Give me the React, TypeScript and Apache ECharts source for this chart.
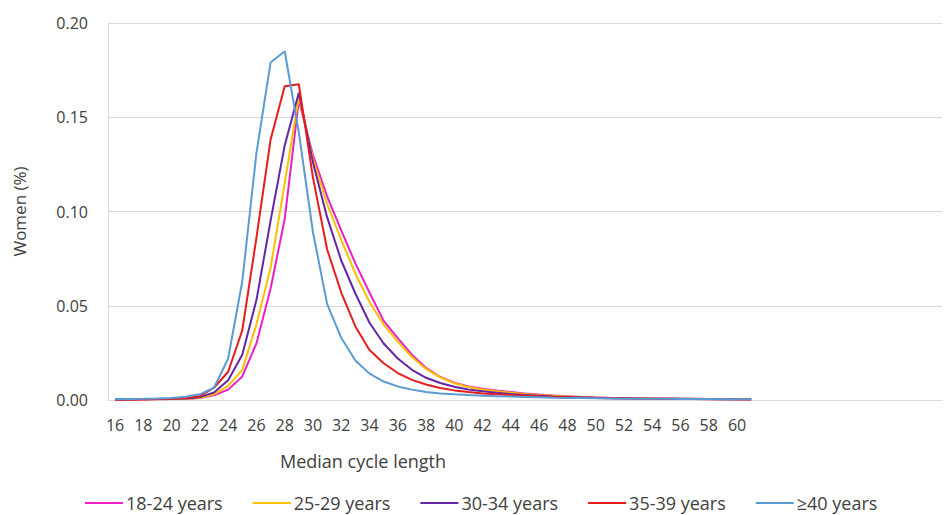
import React, { useEffect, useRef } from "react";
import * as echarts from "echarts";

// Category axis: cycle lengths 16..74 (data exists for 16..61)
const cycleLengths: number[] = Array.from({ length: 59 }, (_, i) => 16 + i);

const seriesNames = ["18-24 years", "25-29 years", "30-34 years", "35-39 years", "≥40 years"];
const seriesColors = ["#ea1fc6", "#ffc000", "#6526a6", "#e81c1c", "#5b9bd5"];

// values for cycle length 16..61
const age18_24 = [
  0.0002, 0.0002, 0.0003, 0.0004, 0.0005, 0.0007, 0.001, 0.0025, 0.0055, 0.0125,
  0.030, 0.059, 0.096, 0.159, 0.130, 0.108, 0.090, 0.0725, 0.057, 0.042,
  0.0328, 0.024, 0.017, 0.0122, 0.0092, 0.0072, 0.006, 0.005, 0.0042, 0.0035,
  0.0029, 0.0024, 0.002, 0.0016, 0.0013, 0.0011, 0.001, 0.0009, 0.0008, 0.0007,
  0.0006, 0.0006, 0.0005, 0.0005, 0.0004, 0.0004,
];
const age25_29 = [
  0.0002, 0.0002, 0.0003, 0.0004, 0.0005, 0.0007, 0.0011, 0.003, 0.0075, 0.016,
  0.040, 0.070, 0.115, 0.161, 0.128, 0.104, 0.085, 0.067, 0.052, 0.040,
  0.031, 0.0228, 0.0165, 0.012, 0.0089, 0.0069, 0.0056, 0.0046, 0.0038, 0.0032,
  0.0027, 0.0023, 0.0019, 0.0016, 0.0013, 0.0011, 0.001, 0.0009, 0.0008, 0.0007,
  0.0006, 0.0006, 0.0005, 0.0005, 0.0004, 0.0004,
];
const age30_34 = [
  0.0003, 0.0003, 0.0004, 0.0005, 0.0006, 0.0008, 0.0015, 0.004, 0.0105, 0.024,
  0.053, 0.095, 0.135, 0.163, 0.126, 0.097, 0.074, 0.0565, 0.041, 0.030,
  0.022, 0.016, 0.0118, 0.009, 0.007, 0.0056, 0.0046, 0.0038, 0.0032, 0.0027,
  0.0023, 0.0019, 0.0016, 0.0014, 0.0012, 0.001, 0.0009, 0.0008, 0.0007, 0.0006,
  0.0006, 0.0005, 0.0005, 0.0004, 0.0004, 0.0004,
];
const age35_39 = [
  0.0003, 0.0003, 0.0004, 0.0005, 0.0007, 0.001, 0.002, 0.0065, 0.015, 0.037,
  0.086, 0.138, 0.1665, 0.1675, 0.118, 0.080, 0.057, 0.039, 0.0265, 0.0195,
  0.0143, 0.0107, 0.0082, 0.0064, 0.0051, 0.0042, 0.0035, 0.003, 0.0026, 0.0022,
  0.0019, 0.0016, 0.0014, 0.0012, 0.001, 0.0009, 0.0008, 0.0007, 0.0006, 0.0006,
  0.0005, 0.0005, 0.0004, 0.0004, 0.0004, 0.0003,
];
const age40plus = [
  0.0005, 0.0005, 0.0006, 0.0008, 0.0011, 0.0017, 0.003, 0.0065, 0.022, 0.063,
  0.131, 0.179, 0.185, 0.142, 0.089, 0.051, 0.033, 0.021, 0.014, 0.0098,
  0.0072, 0.0055, 0.0043, 0.0035, 0.003, 0.0026, 0.0023, 0.002, 0.0018, 0.0016,
  0.0014, 0.0012, 0.0011, 0.001, 0.0009, 0.0008, 0.0007, 0.0007, 0.0006, 0.0006,
  0.0005, 0.0005, 0.0005, 0.0004, 0.0004, 0.0004,
];

const yTicks = { min: 0, max: 0.2, interval: 0.05 };
const lastLabel = 60;

const allSeries = [age18_24, age25_29, age30_34, age35_39, age40plus];

export default function App() {
  const ref = useRef<HTMLDivElement>(null);
  useEffect(() => {
    if (!ref.current) return;
    const chart = echarts.init(ref.current, null, { renderer: "svg" });
    const font = "'Open Sans', sans-serif";
    chart.setOption({
      animation: false,
      backgroundColor: "#ffffff",
      textStyle: { fontFamily: font },
      grid: { left: 108, top: 23, right: 2, bottom: 115, containLabel: false },
      legend: {
        left: 80,
        top: 488,
        itemWidth: 38,
        itemHeight: 14,
        itemGap: 30,
        icon: "path://M0,6 L38,6 L38,8 L0,8 Z",
        textStyle: { fontSize: 18, lineHeight: 20, color: "#404040", fontFamily: font, padding: [0, 0, 0, -2] },
        data: seriesNames,
      },
      xAxis: {
        type: "category",
        boundaryGap: true,
        data: cycleLengths.map(String),
        axisLine: { show: true, lineStyle: { color: "#d9d9d9", width: 1 } },
        axisTick: { show: false },
        splitLine: { show: false },
        axisLabel: {
          interval: 1,
          margin: 17,
          fontSize: 16,
          color: "#404040",
          fontFamily: font,
          formatter: (v: string) => (Number(v) <= lastLabel ? v : ""),
        },
      },
      yAxis: {
        type: "value",
        min: yTicks.min,
        max: yTicks.max,
        interval: yTicks.interval,
        name: "Women (%)",
        nameLocation: "middle",
        nameGap: 80,
        nameTextStyle: { fontSize: 17, color: "#404040", fontFamily: font },
        axisLine: { show: true, lineStyle: { color: "#d9d9d9", width: 1 } },
        axisTick: { show: false },
        splitLine: { show: true, lineStyle: { color: "#d9d9d9", width: 1 } },
        axisLabel: {
          margin: 20,
          fontSize: 16,
          color: "#404040",
          fontFamily: font,
          formatter: (v: number) => v.toFixed(2),
        },
      },
      graphic: [
        {
          type: "text",
          x: 363,
          y: 461,
          style: {
            text: "Median cycle length",
            textAlign: "center",
            textVerticalAlign: "middle",
            fontSize: 18,
            fontFamily: font,
            fill: "#404040",
          },
        },
      ],
      series: allSeries.map((d, i) => ({
        name: seriesNames[i],
        type: "line",
        data: d,
        symbol: "none",
        smooth: false,
        lineStyle: { color: seriesColors[i], width: 2 },
        itemStyle: { color: seriesColors[i] },
      })),
    });
    return () => chart.dispose();
  }, []);
  return (
    <div
      ref={ref}
      style={{ position: "absolute", left: 0, top: 0, width: 944, height: 515 }}
    />
  );
}
